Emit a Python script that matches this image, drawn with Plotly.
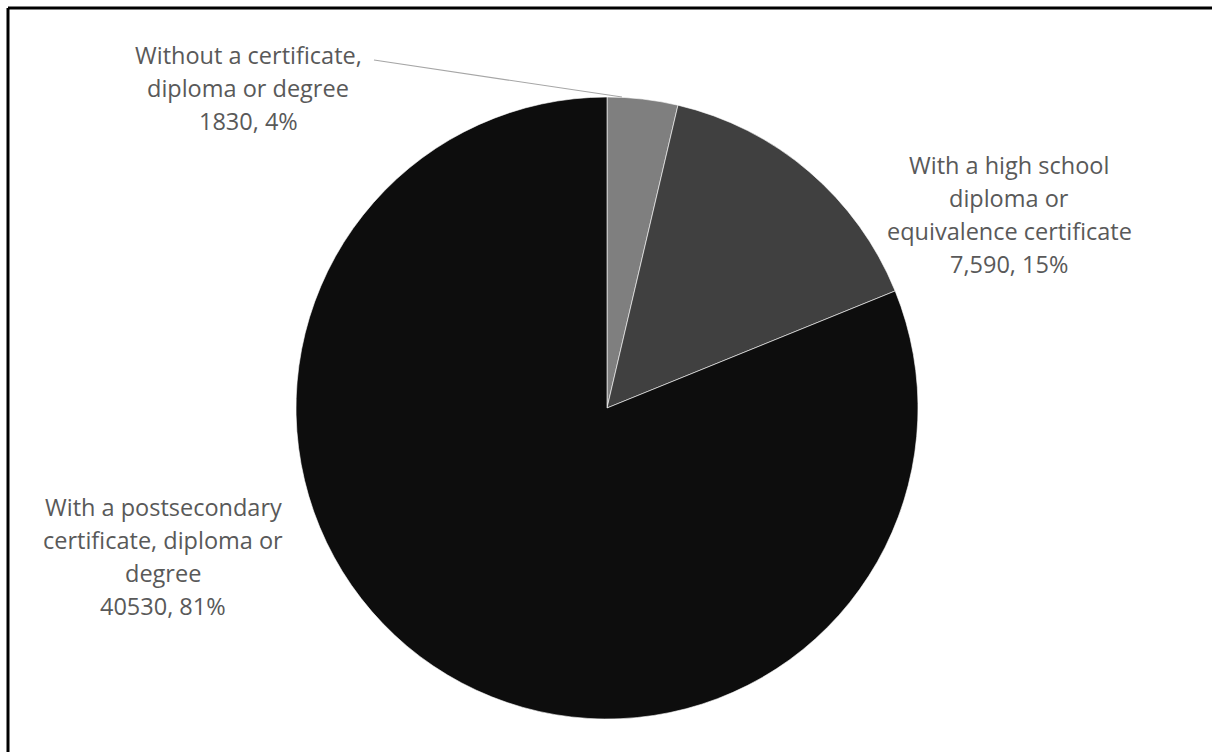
import plotly.graph_objects as go

categories = [
    "Without a certificate,<br>diploma or degree",
    "With a high school<br>diploma or<br>equivalence certificate",
    "With a postsecondary<br>certificate, diploma or<br>degree",
]
values = [1830, 7590, 40530]
value_labels = ["1830", "7,590", "40530"]
pct_labels = ["4%", "15%", "81%"]
colors = ["#7f7f7f", "#404040", "#0d0d0d"]

W, H = 1212, 752
cx, cy, r = 607, 408, 311

fig = go.Figure()
fig.add_trace(go.Pie(
    values=values,
    labels=[c.replace("<br>", " ") for c in categories],
    sort=False,
    direction="clockwise",
    rotation=0,
    marker=dict(colors=colors, line=dict(color="#ffffff", width=0.6)),
    textinfo="none",
    hoverinfo="label+value+percent",
    showlegend=False,
    domain=dict(x=[(cx - r) / W, (cx + r) / W], y=[1 - (cy + r) / H, 1 - (cy - r) / H]),
))

# label anchors (pixel centres of first line) and line pitch
anchors = [(248, 55), (1009, 165), (163, 507)]
pitch = 33
font = dict(family="'Open Sans', sans-serif", size=23.5, color="#595959")

annotations = []
for i, cat in enumerate(categories):
    lines = cat.split("<br>") + [f"{value_labels[i]}, {pct_labels[i]}"]
    ax_px, ay_px = anchors[i]
    for j, line in enumerate(lines):
        annotations.append(dict(
            x=ax_px / W, y=1 - (ay_px + j * pitch) / H, xref="paper", yref="paper",
            text=line, showarrow=False, xanchor="center", yanchor="middle", font=font,
        ))

shapes = [
    # leader line for the small slice
    dict(type="line", xref="paper", yref="paper",
         x0=374 / W, y0=1 - 60 / H, x1=622 / W, y1=1 - 97 / H,
         line=dict(color="#a6a6a6", width=1.2)),
    # frame (top and left edges)
    dict(type="line", xref="paper", yref="paper",
         x0=8 / W, y0=1 - 8 / H, x1=1.0, y1=1 - 8 / H, line=dict(color="#000000", width=3)),
    dict(type="line", xref="paper", yref="paper",
         x0=8 / W, y0=1 - 8 / H, x1=8 / W, y1=0.0, line=dict(color="#000000", width=3)),
]

fig.update_layout(
    width=W, height=H,
    margin=dict(l=0, r=0, t=0, b=0),
    paper_bgcolor="#ffffff", plot_bgcolor="#ffffff",
    annotations=annotations,
    shapes=shapes,
)

fig.write_html(
    "out.html",
    config={"displayModeBar": False},
    post_script="document.body.style.margin='0';document.body.style.overflow='hidden';",
)
